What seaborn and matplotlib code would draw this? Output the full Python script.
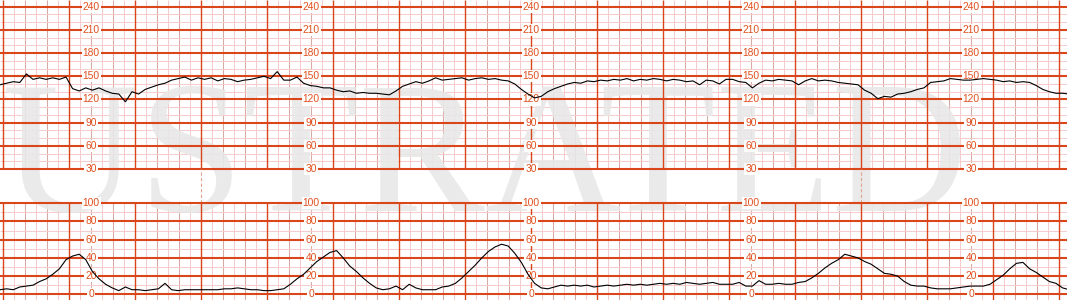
import numpy as np
import pandas as pd
import matplotlib
matplotlib.use("Agg")
import matplotlib.pyplot as plt
import seaborn as sns

# ---------------- data ----------------
STEP_S = 6          # sampling step of the traces, seconds
T0 = -3             # time of first sample, seconds

fhr = [139, 141, 143, 142, 153, 146, 148, 146, 148, 146,
       149, 134, 131, 135, 132, 135, 131, 128, 127, 117,
       130, 127, 133, 136, 139, 141, 145, 147, 149, 145,
       148, 146, 148, 144, 147, 146, 143, 145, 146, 148,
       150, 147, 156, 145, 145, 149, 141, 138, 137, 135,
       135, 132, 130, 131, 128, 129, 128, 128, 127, 126,
       131, 137, 140, 143, 141, 144, 148, 145, 146, 147,
       148, 145, 147, 148, 146, 147, 145, 144, 140, 133,
       127, 122, 124, 130, 134, 137, 140, 142, 141, 144,
       143, 145, 144, 146, 145, 147, 144, 146, 145, 147,
       146, 144, 146, 145, 143, 144, 139, 145, 144, 140,
       146, 146, 143, 142, 135, 141, 145, 144, 146, 145,
       144, 139, 144, 147, 144, 145, 144, 142, 141, 140,
       139, 132, 128, 121, 124, 123, 127, 128, 130, 133,
       135, 142, 143, 144, 147, 146, 145, 145, 146, 147,
       146, 145, 143, 144, 142, 143, 142, 138, 133, 130,
       128, 128, 127]

toco = [5, 6, 5, 8, 9, 10, 14, 17, 22, 28,
        38, 42, 44, 38, 25, 17, 11, 7, 4, 8,
        5, 5, 4, 5, 6, 12, 5, 4, 5, 5,
        5, 5, 5, 5, 6, 6, 7, 6, 5, 5,
        4, 4, 5, 6, 11, 17, 22, 29, 36, 41,
        46, 48, 40, 31, 25, 18, 12, 7, 5, 6,
        9, 5, 11, 7, 5, 5, 5, 8, 9, 12,
        18, 25, 32, 40, 47, 52, 55, 53, 45, 35,
        22, 12, 7, 6, 8, 10, 9, 10, 9, 10,
        8, 9, 10, 9, 10, 11, 10, 11, 10, 11,
        12, 11, 12, 11, 13, 12, 11, 12, 13, 11,
        11, 11, 13, 9, 9, 15, 11, 11, 12, 11,
        11, 13, 14, 18, 23, 29, 34, 38, 44, 42,
        40, 36, 33, 28, 23, 22, 20, 14, 10, 9,
        9, 7, 6, 6, 6, 7, 8, 9, 9, 9,
        11, 16, 21, 28, 34, 35, 28, 24, 19, 14,
        12, 7, 5]

fhr_labels = [240, 210, 180, 150, 120, 90, 60, 30]
toco_labels = [100, 80, 60, 40, 20, 0]
label_times = [80, 280, 480, 680, 880]     # seconds
marker_times = [180, 780]                  # dashed 10-minute marks
watermark_text = "USTRATED"

# ---------------- styling ----------------
MAJOR = "#d8461a"
TEXT = "#e0501e"
MEDIUM = "#d9aaa4"
LIGHT = "#f6cccc"
XMIN, XMAX = -3.0, 967.0

W, H = 1067, 300
fig = plt.figure(figsize=(W / 100, H / 100), dpi=100)
fig.patch.set_facecolor("white")

top_rect = [0, 1 - 169 / H, 1, 169 / H]
gap_rect = [0, 96.7 / H, 1, (203.3 - 169) / H]
bot_rect = [0, 0, 1, 96.7 / H]
TOP_LIM = (30, 248.7)
BOT_LIM = (-6.3, 100)

def bare(ax, ylim):
    ax.set_facecolor("none")
    ax.set_xlim(XMIN, XMAX)
    ax.set_ylim(*ylim)
    for s in ax.spines.values():
        s.set_visible(False)
    ax.set_xticks([])
    ax.set_yticks([])

# light grid on background axes (below watermark)
def minor_grid(ax, hvals):
    ts = np.arange(0, 970, 10)
    light = [v for v in ts if v % 60 in (10, 30, 50)]
    med = [v for v in ts if v % 60 in (20, 40)]
    tr = ax.get_xaxis_transform()
    ax.vlines(light, 0, 1, transform=tr, colors=LIGHT, lw=0.75)
    ax.vlines(med, 0, 1, transform=tr, colors=MEDIUM, lw=0.75)
    ax.hlines(hvals, XMIN, XMAX, colors=LIGHT, lw=0.75)

bg_top = fig.add_axes(top_rect, zorder=-10)
bare(bg_top, TOP_LIM)
minor_grid(bg_top, [v for v in range(40, 241, 10) if v % 30 != 0])
bg_bot = fig.add_axes(bot_rect, zorder=-10)
bare(bg_bot, BOT_LIM)
minor_grid(bg_bot, [v for v in range(10, 100, 10) if v % 20 != 0])

# watermark above the light grid, below the main grid
fig.text(2 / W, (H - 211) / H, watermark_text, ha="left", va="baseline",
         fontsize=136, family="Liberation Serif", color="#e8e8e8", alpha=0.9, zorder=-5)

ax_top = fig.add_axes(top_rect, zorder=0)
ax_gap = fig.add_axes(gap_rect, zorder=0)
ax_bot = fig.add_axes(bot_rect, zorder=0)
bare(ax_top, TOP_LIM)
bare(ax_gap, (0, 1))
bare(ax_bot, BOT_LIM)

t = T0 + STEP_S * np.arange(len(fhr))
df = pd.DataFrame({"t": t, "fhr": fhr, "toco": toco})

major_t = [v for v in np.arange(0, 970, 10) if v % 60 == 0]

# top panel
ax_top.vlines(major_t, 0, 1, transform=ax_top.get_xaxis_transform(), colors=MAJOR, lw=1.0, zorder=2)
for v in fhr_labels:
    ax_top.axhline(v, color=MAJOR, lw=1.5, zorder=2, clip_on=False)
for lt in label_times:
    for v in fhr_labels:
        ax_top.text(lt, v, str(v), ha="center", va="center", fontsize=7.4,
                    family="Liberation Sans", color=TEXT, zorder=3,
                    bbox=dict(facecolor="white", edgecolor="none", pad=0.8))
sns.lineplot(data=df, x="t", y="fhr", ax=ax_top, color="black", lw=0.8, zorder=4)

# gap
ax_gap.vlines(marker_times, 0, 1, colors="#e6a08e", lw=0.8, linestyles=(0, (3, 2)), zorder=2)

# bottom panel
ax_bot.vlines(major_t, 0, 1, transform=ax_bot.get_xaxis_transform(), colors=MAJOR, lw=1.0, zorder=2)
for v in toco_labels:
    ax_bot.axhline(v, color=MAJOR, lw=1.5, zorder=2, clip_on=False)
for lt in label_times:
    for v in toco_labels:
        ax_bot.text(lt, v, str(v), ha="center", va="center", fontsize=7.4,
                    family="Liberation Sans", color=TEXT, zorder=3,
                    bbox=dict(facecolor="white", edgecolor="none", pad=0.8))
sns.lineplot(data=df, x="t", y="toco", ax=ax_bot, color="black", lw=0.8, zorder=4)

for ax in (ax_top, ax_gap, ax_bot):
    ax.set_xlabel("")
    ax.set_ylabel("")
    ax.set_xlim(XMIN, XMAX)

fig.savefig("out.png", dpi=100, facecolor="white")
